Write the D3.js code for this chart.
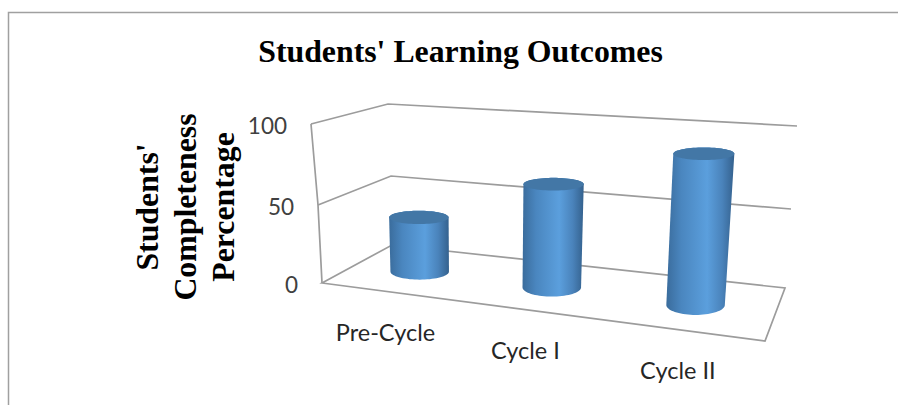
<!DOCTYPE html>
<html>
<head>
<meta charset="utf-8">
<script src="https://cdn.jsdelivr.net/npm/d3@7"></script>
<style>
  html, body { margin: 0; padding: 0; background: #fff; }
  svg { display: block; }
</style>
</head>
<body>
<svg id="chart"></svg>
<script>
var categories = ["Pre-Cycle", "Cycle I", "Cycle II"];
var values = [36, 65, 90];
var yTicks = [0, 50, 100];
var yTitle = ["Students'", "Completeness", "Percentage"];
var title = "Students' Learning Outcomes";

var width = 898, height = 405;

var svg = d3.select("#chart")
  .attr("width", width)
  .attr("height", height);

// the four upright edges of the 3D box, read at value 0 / 50 / 100
function edge(xs, ys) {
  return {
    x: d3.scaleLinear().domain(yTicks).range(xs),
    y: d3.scaleLinear().domain(yTicks).range(ys)
  };
}
var frontLeft = edge([322, 318, 311], [283, 205, 124]);
var frontRight = edge([765, 772, 779], [341, 250, 158]);
var backLeft = edge([392, 391, 388], [245, 176, 104]);
var backRight = edge([785, 791, 797], [288, 209, 126]);

// u = across the floor, d = depth (0 front, 1 back), v = value
function project(u, d, v) {
  var fx = frontLeft.x(v) + (frontRight.x(v) - frontLeft.x(v)) * u;
  var fy = frontLeft.y(v) + (frontRight.y(v) - frontLeft.y(v)) * u;
  var bx = backLeft.x(v) + (backRight.x(v) - backLeft.x(v)) * u;
  var by = backLeft.y(v) + (backRight.y(v) - backLeft.y(v)) * u;
  return [fx + (bx - fx) * d, fy + (by - fy) * d];
}

// slots get wider towards the viewer's right
var uScale = d3.scaleLinear().domain([0, 1, 2]).range([0.15, 0.466, 0.81]);

var line = d3.line();
var wall = svg.append("g")
  .attr("fill", "none")
  .attr("stroke", "#9c9c9c")
  .attr("stroke-width", 1.7);

// frame of the picture
wall.append("path")
  .attr("d", line([[8.5, height], [8.5, 12.5], [width, 12.5]]))
  .attr("stroke", "#a0a0a0")
  .attr("stroke-width", 1.5);

// floor
wall.append("path")
  .attr("d", line([project(0, 0, 0), project(1, 0, 0), project(1, 1, 0), project(0, 1, 0)]) + "Z");

// front edge of the left wall
wall.append("path")
  .attr("d", line(yTicks.map(function(t) { return project(0, 0, t); })));

// gridlines above the floor
yTicks.slice(1).forEach(function(t) {
  wall.append("path")
    .attr("d", line([project(0, 0, t), project(0, 1, t), project(1, 1, t)]));
});

// tick labels
svg.selectAll(".tick")
  .data(yTicks)
  .enter().append("text")
  .attr("class", "tick")
  .attr("x", function(d) { return project(0, 0, d)[0] - 24; })
  .attr("y", function(d) { return project(0, 0, d)[1] + 10; })
  .style("font-family", "Lato")
  .style("font-size", "22.5px")
  .style("fill", "#404040")
  .style("text-anchor", "end")
  .text(function(d) { return d; });

// category labels
svg.selectAll(".cat")
  .data(categories)
  .enter().append("text")
  .attr("class", "cat")
  .attr("x", function(d, i) { return project(uScale(i), 0, 0)[0] - 3; })
  .attr("y", function(d, i) { return project(uScale(i), 0, 0)[1] + 49; })
  .style("font-family", "Lato")
  .style("font-size", "23.5px")
  .style("fill", "#262626")
  .style("text-anchor", "middle")
  .text(function(d) { return d; });

// cylinders
var defs = svg.append("defs");
var grad = defs.append("linearGradient").attr("id", "side");
[[0, "#3a6c9c"], [0.22, "#4a86bf"], [0.6, "#5b9fdd"], [0.82, "#4a83bb"], [1, "#34618d"]].forEach(function(s) {
  grad.append("stop").attr("offset", s[0]).attr("stop-color", s[1]);
});

var halfU = 0.07, halfD = 0.2;
var angles = d3.range(0, 360, 5).map(function(a) { return a * Math.PI / 180; });

function ring(u, v) {
  var c = project(u, 0.5, v);
  var rx = (project(u + halfU, 0.5, v)[0] - project(u - halfU, 0.5, v)[0]) / 2;
  var ry = (project(u, 0.5 - halfD, v)[1] - project(u, 0.5 + halfD, v)[1]) / 2;
  return angles.map(function(a) {
    return [c[0] + rx * Math.cos(a), c[1] + ry * Math.sin(a)];
  });
}

var bars = svg.selectAll(".bar")
  .data(values)
  .enter().append("g")
  .attr("class", "bar");

bars.append("path")
  .attr("d", function(d, i) {
    var u = uScale(i);
    return line(d3.polygonHull(ring(u, 0).concat(ring(u, d)))) + "Z";
  })
  .attr("fill", "url(#side)");

bars.append("path")
  .attr("d", function(d, i) { return line(ring(uScale(i), d)) + "Z"; })
  .attr("fill", "#4377a6");

// titles
svg.append("text")
  .attr("x", 460.5)
  .attr("y", 62)
  .style("font-family", "Liberation Serif")
  .style("font-weight", "bold")
  .style("font-size", "31.8px")
  .style("fill", "#000")
  .style("text-anchor", "middle")
  .text(title);

svg.selectAll(".ytitle")
  .data(yTitle)
  .enter().append("text")
  .attr("class", "ytitle")
  .attr("transform", function(d, i) {
    return "translate(" + (158 + i * 38) + ",207) rotate(-90)";
  })
  .style("font-family", "Liberation Serif")
  .style("font-weight", "bold")
  .style("font-size", "31.8px")
  .style("fill", "#000")
  .style("text-anchor", "middle")
  .text(function(d) { return d; });
</script>
</body>
</html>
